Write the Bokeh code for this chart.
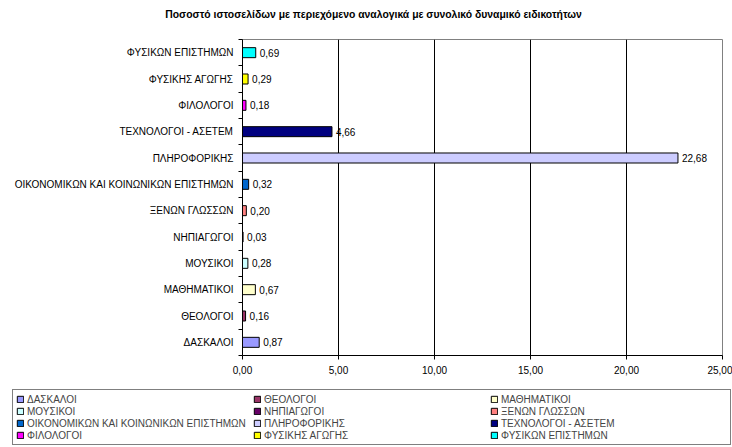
from bokeh.plotting import figure
from bokeh.models import ColumnDataSource, FixedTicker, Legend, LegendItem, Range1d, Label
from bokeh.embed import file_html
from bokeh.resources import INLINE
from bokeh.core.properties import value

title_text = "Ποσοστό ιστοσελίδων με περιεχόμενο αναλογικά με συνολικό δυναμικό ειδικοτήτων"
categories = [
    "ΔΑΣΚΑΛΟΙ",
    "ΘΕΟΛΟΓΟΙ",
    "ΜΑΘΗΜΑΤΙΚΟΙ",
    "ΜΟΥΣΙΚΟΙ",
    "ΝΗΠΙΑΓΩΓΟΙ",
    "ΞΕΝΩΝ ΓΛΩΣΣΩΝ",
    "ΟΙΚΟΝΟΜΙΚΩΝ ΚΑΙ ΚΟΙΝΩΝΙΚΩΝ ΕΠΙΣΤΗΜΩΝ",
    "ΠΛΗΡΟΦΟΡΙΚΗΣ",
    "ΤΕΧΝΟΛΟΓΟΙ - ΑΣΕΤΕΜ",
    "ΦΙΛΟΛΟΓΟΙ",
    "ΦΥΣΙΚΗΣ ΑΓΩΓΗΣ",
    "ΦΥΣΙΚΩΝ ΕΠΙΣΤΗΜΩΝ",
]
values = [0.87, 0.16, 0.67, 0.28, 0.03, 0.20, 0.32, 22.68, 4.66, 0.18, 0.29, 0.69]
colors = ["#9999FF", "#993366", "#FFFFCC", "#CCFFFF", "#660066", "#FF8080",
          "#0066CC", "#CCCCFF", "#000080", "#FF00FF", "#FFFF00", "#00FFFF"]
x_ticks = [0, 5, 10, 15, 20, 25]
x_tick_labels = ["0,00", "5,00", "10,00", "15,00", "20,00", "25,00"]

FONT = "Liberation Sans"

y_pos = [i + 0.5 for i in range(len(categories))]
labels = [f"{v:.2f}".replace(".", ",") for v in values]
src = ColumnDataSource(dict(y=y_pos, value=values, color=colors, label=labels, cat=categories))

# Title strip
p0 = figure(width=732, height=26, x_range=Range1d(0, 1), y_range=Range1d(0, 1),
            output_backend="svg", toolbar_location=None,
            x_axis_location=None, y_axis_location=None,
            min_border_left=0, min_border_right=0, min_border_top=0, min_border_bottom=0)
p0.outline_line_color = None
p0.grid.grid_line_color = None
p0.add_layout(Label(x=373, y=12, x_units="screen", y_units="screen", text=title_text,
                    text_align="center", text_baseline="middle", text_font=FONT,
                    text_font_size="10.4px", text_font_style="bold", text_color="black"))

# Main chart
p = figure(width=732, height=356, x_range=Range1d(0, 25), y_range=Range1d(0, 12),
           output_backend="svg", toolbar_location=None,
           min_border_left=242, min_border_right=10, min_border_top=13, min_border_bottom=27)
p.outline_line_color = "#808080"
p.background_fill_color = "white"
p.border_fill_color = "white"

p.xgrid.ticker = FixedTicker(ticks=x_ticks)
p.xgrid.grid_line_color = "black"
p.ygrid.grid_line_color = None

xa = p.xaxis[0]
xa.ticker = FixedTicker(ticks=x_ticks)
xa.major_label_overrides = dict(zip(x_ticks, x_tick_labels))
xa.major_tick_out = 4
xa.major_tick_in = 0
xa.minor_tick_line_color = None
xa.axis_line_color = "black"
xa.major_tick_line_color = "black"
xa.major_label_text_font = FONT
xa.major_label_text_font_size = "10px"
xa.major_label_text_color = "black"
xa.major_label_standoff = 6

ya = p.yaxis[0]
ya.ticker = FixedTicker(ticks=y_pos, minor_ticks=list(range(len(categories) + 1)))
ya.major_label_overrides = dict(zip(y_pos, categories))
ya.major_tick_out = 0
ya.major_tick_in = 0
ya.minor_tick_out = 4
ya.minor_tick_in = 0
ya.minor_tick_line_color = "black"
ya.axis_line_color = "black"
ya.major_label_text_font = FONT
ya.major_label_text_font_size = "10px"
ya.major_label_text_color = "black"
ya.major_label_standoff = 5

r = p.hbar(y="y", left=0, right="value", height=0.38, fill_color="color",
           line_color="black", line_width=1, source=src)
p.text(x="value", y="y", text="label", x_offset=4, text_baseline="middle",
       text_font=value(FONT), text_font_size="10px", text_color="black", source=src)

# Legend strip (its bars lie outside its visible ranges; only the legend shows)
p2 = figure(width=732, height=65, x_range=Range1d(100, 101), y_range=Range1d(100, 101),
            output_backend="svg", toolbar_location=None,
            x_axis_location=None, y_axis_location=None,
            min_border_left=0, min_border_right=0, min_border_top=0, min_border_bottom=0)
p2.outline_line_color = None
p2.grid.grid_line_color = None
r2 = p2.hbar(y="y", left=0, right="value", height=0.38, fill_color="color",
             line_color="black", line_width=1, source=src)

ncols = 3
nrows = (len(categories) + ncols - 1) // ncols
order = [rr * ncols + cc for cc in range(ncols) for rr in range(nrows) if rr * ncols + cc < len(categories)]
items = [LegendItem(label=categories[i], renderers=[r2], index=i) for i in order]
legend = Legend(items=items, location=(12, 2), ncols=ncols,
                glyph_width=8, glyph_height=8, label_width=226, label_height=12,
                label_standoff=3, spacing=0, padding=3, margin=0,
                border_line_color="black", border_line_width=1,
                label_text_font=FONT, label_text_font_size="10px",
                background_fill_color="white", background_fill_alpha=1)
p2.add_layout(legend)

open("out.html", "w").write(file_html([p0, p, p2], INLINE))
